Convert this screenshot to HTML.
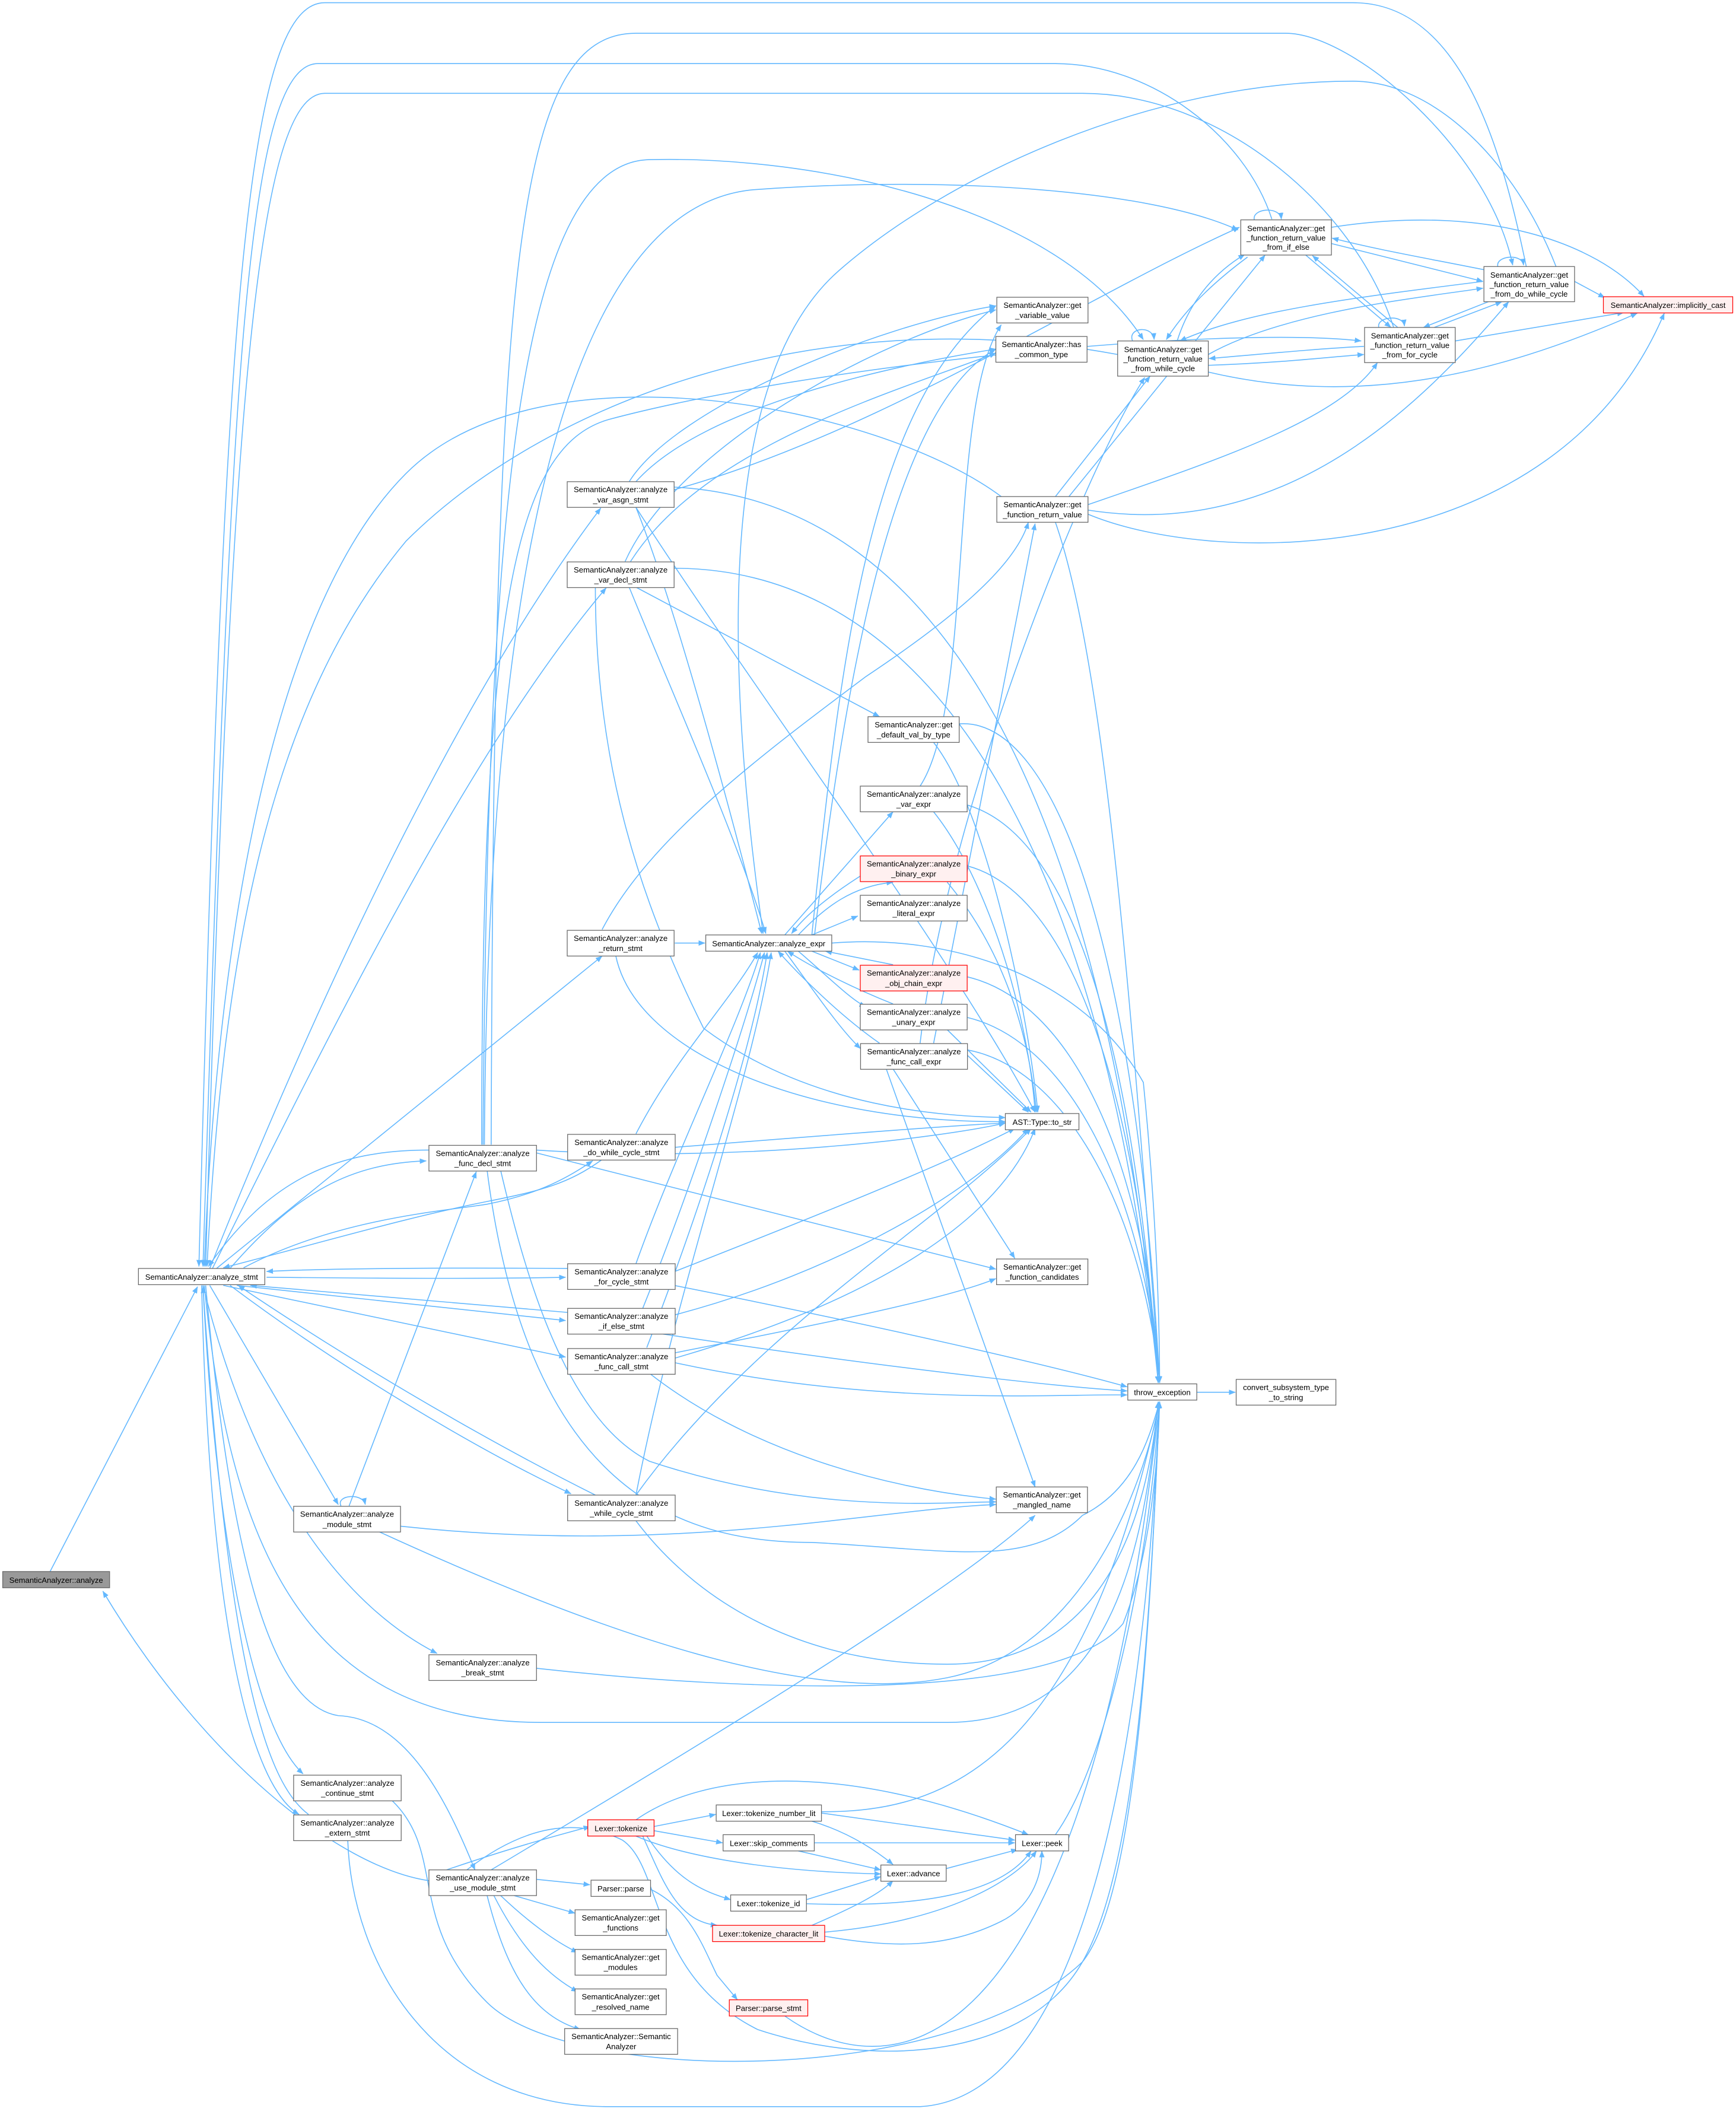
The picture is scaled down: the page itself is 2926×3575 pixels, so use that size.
<!DOCTYPE html>
<html><head><meta charset="utf-8">
<style>
html,body{margin:0;padding:0;background:#fff;}
svg{display:block;}
text{font-family:"Liberation Sans",Arial,sans-serif;font-size:5.75px;fill:#000;text-anchor:middle;}
.e path{fill:none;stroke:#63b8ff;stroke-width:0.7;}
.n rect{fill:#fff;stroke:#666;stroke-width:0.55;}
.n rect.r{fill:#fff0f0;stroke:#ff0000;}
.n rect.g{fill:#999;stroke:#666;}
</style></head>
<body>
<svg width="2926" height="3575" viewBox="0 0 1283 1567.6" xmlns="http://www.w3.org/2000/svg">
<defs>
<marker id="a" markerUnits="userSpaceOnUse" markerWidth="5" markerHeight="4" viewBox="0 0 10 8" refX="9.5" refY="4" orient="auto"><path d="M0,0 L10,4 L0,8 z" fill="#63b8ff"/></marker>
</defs>
<g class="e" marker-end="url(#a)">
<path d="M37 1161.5 L146 951"/>
<path d="M317 1390 C250 1380 150 1300 76 1176"/>
<path d="M170 937.5 C220 880 260 860 315 858"/>
<path d="M317 850 C250 850 200 870 154 936"/>
<path d="M180 937 C250 900 330 895 360 890 C400 882 420 870 438 858"/>
<path d="M445 857 C420 875 400 880 360 888 C300 900 250 915 165 937"/>
<path d="M419.5 937.5 C350 937 250 937 197 939.7"/>
<path d="M197 944 C300 945 380 945 418 944"/>
<path d="M419.5 970 L185 950"/>
<path d="M175 950 L418 976"/>
<path d="M165 950 L418 1003"/>
<path d="M170 950 C250 1010 350 1070 422 1104"/>
<path d="M440 1105 C350 1060 250 1000 176 950"/>
<path d="M155 950 L250 1112"/>
<path d="M258 1113 L352 866"/>
<path d="M252 1113 C248 1105 268 1103 270 1112"/>
<path d="M150 950 C190 1110 260 1190 323 1222"/>
<path d="M150 950 C160 1150 190 1280 224 1311"/>
<path d="M149 950 C155 1200 185 1320 221 1341"/>
<path d="M228 1341 C200 1320 170 1250 150 951"/>
<path d="M152 950 C170 1150 200 1260 250 1268 C300 1270 330 1330 351 1382"/>
<path d="M151 950 C170 1150 230 1273 400 1273 L700 1273 C820 1273 845 1150 856 1036"/>
<path d="M155 937.5 C250 700 350 500 444 375.5"/>
<path d="M157 937.5 C250 750 350 550 448 434.5"/>
<path d="M160 937.5 L445 706.6"/>
<path d="M1128 197 C1110 110 1080 2 1000 2 L240 2 C180 2 165 250 147 936"/>
<path d="M363 846 C365 200 380 24.6 470 24.6 L950 24.6 C1000 24.6 1100 110 1118 196"/>
<path d="M940 162 C920 100 850 47 780 47 L235 47 C180 47 170 300 150 936"/>
<path d="M1030 242 C1000 150 900 69 800 69 L240 69 C190 69 170 300 152 936"/>
<path d="M357 846 C360 400 380 120 480 118 C600 115 780 150 845 251"/>
<path d="M358 846 C360 500 400 150 560 140 C700 130 850 140 915 170"/>
<path d="M356 846 C356 450 380 330 450 310 C600 270 900 240 1006 252"/>
<path d="M740 367 C650 300 400 250 300 350 C200 450 160 700 151 936"/>
<path d="M826 262 C600 220 400 300 300 400 C200 520 165 700 153 936"/>
<path d="M1150 197 C1120 120 1060 60 1000 60 C850 60 700 130 620 200 C540 270 530 450 564 690"/>
<path d="M470 375 C500 450 540 600 563 690"/>
<path d="M465 434 C500 520 545 620 566 690"/>
<path d="M498.7 697 L521 697"/>
<path d="M470 838 C500 780 540 740 560 704"/>
<path d="M470 934 C500 850 545 760 562 704"/>
<path d="M475 967 C510 880 550 760 565 704"/>
<path d="M478 996 C515 900 555 780 567 704"/>
<path d="M470 1105 C500 950 555 800 570 704"/>
<path d="M580 691 L660 600"/>
<path d="M590 691 C610 670 630 655 660 652"/>
<path d="M660 633 C630 650 600 670 585 690"/>
<path d="M600 691 L634 677"/>
<path d="M600 703 L635 717"/>
<path d="M660 713 L610 703"/>
<path d="M590 703 C610 720 630 740 640 744"/>
<path d="M660 742 C630 730 600 715 582 703"/>
<path d="M580 703 C600 730 620 760 636 775"/>
<path d="M650 771 C620 750 590 720 575 703"/>
<path d="M600 691 C620 500 640 300 736 226"/>
<path d="M602 691 C625 500 660 300 736 258"/>
<path d="M614.7 697 C700 690 800 720 845 800 C855 900 857 980 857 1022"/>
<path d="M680 581 C720 520 700 300 740 240"/>
<path d="M715 595 C800 620 840 800 856 1022"/>
<path d="M690 600 C730 650 760 750 765 822"/>
<path d="M700 652 C740 700 760 760 766 822"/>
<path d="M715 640 C790 660 840 800 856 1022"/>
<path d="M715 722 C790 740 845 850 857 1022"/>
<path d="M700 761 L762 822"/>
<path d="M715 752 C790 770 845 880 857 1022"/>
<path d="M715 780 L760 822"/>
<path d="M715 776 C790 790 845 900 857 1022"/>
<path d="M660 790 L750 930"/>
<path d="M655 790 L765 1099"/>
<path d="M690 771 L765 387"/>
<path d="M680 771 C700 600 800 350 846 279"/>
<path d="M709 535 C780 530 840 700 857 1022"/>
<path d="M690 548.7 C730 600 760 750 767 822"/>
<path d="M470 434 L650 529.7"/>
<path d="M498 360 C700 370 820 600 856 1022"/>
<path d="M498 420 C700 420 820 650 856 1022"/>
<path d="M465 356 C500 300 650 240 736 226"/>
<path d="M470 356 C520 300 660 270 736 258"/>
<path d="M462 415 C500 330 650 250 736 229"/>
<path d="M466 415 C520 330 660 290 736 261"/>
<path d="M498 362 C650 320 800 220 916 168"/>
<path d="M470 375 C550 500 700 700 765 822"/>
<path d="M440 434 C440 560 470 660 520 760 C600 820 700 825 743 826"/>
<path d="M455 706 C470 780 600 830 743 829"/>
<path d="M445 687 C480 620 560 560 640 500 C700 460 750 420 760 386"/>
<path d="M498 848 C600 840 700 832 743 830"/>
<path d="M498 940 C600 900 700 860 750 834"/>
<path d="M498 950 C650 980 780 1010 833 1025"/>
<path d="M498 972 C620 940 720 880 760 834"/>
<path d="M490 986 C650 1010 780 1025 833 1028"/>
<path d="M498 1004 C650 960 740 900 765 834"/>
<path d="M498 1007 C650 1040 780 1030 833 1031"/>
<path d="M498 1000 C600 980 700 960 736 945"/>
<path d="M480 1015 C550 1070 650 1100 736 1108"/>
<path d="M470 1105 C560 980 700 900 762 834"/>
<path d="M470 1124 C520 1190 600 1230 700 1230 C800 1230 845 1150 856 1036"/>
<path d="M396 852 L736 938"/>
<path d="M396 850 C550 860 700 840 743 830"/>
<path d="M370 865 C390 950 420 1050 480 1080 C600 1120 700 1110 736 1110"/>
<path d="M360 865 C390 1100 500 1140 600 1140 C700 1145 760 1160 800 1120 C840 1100 850 1060 857 1036"/>
<path d="M296 1128 C500 1150 650 1115 736 1112"/>
<path d="M280 1132 C450 1210 600 1260 700 1240 C800 1220 845 1100 857 1036"/>
<path d="M396.5 1233 C550 1250 780 1260 830 1200 C850 1150 856 1080 857 1036"/>
<path d="M290 1331 C330 1370 300 1420 360 1480 C420 1540 700 1545 800 1450 C840 1400 850 1200 857 1036"/>
<path d="M257 1360 C260 1450 320 1557 450 1557 L680 1557 C800 1550 845 1300 857 1036"/>
<path d="M363 1382 C500 1300 700 1180 765 1120"/>
<path d="M330 1382 C380 1365 410 1357 436 1350"/>
<path d="M396.5 1389 L436 1393"/>
<path d="M380 1401 L425 1414"/>
<path d="M370 1401 C390 1420 410 1435 427 1443"/>
<path d="M365 1401 C385 1440 405 1460 427 1472"/>
<path d="M360 1401 C375 1460 395 1490 429 1500"/>
<path d="M345 1382 C380 1355 420 1340 460 1360 C490 1380 480 1460 560 1500 C650 1530 760 1520 800 1450 C840 1380 850 1200 857 1036"/>
<path d="M483 1350 L529 1341"/>
<path d="M483 1353 L534 1362"/>
<path d="M470 1357 C500 1370 560 1383 651 1385"/>
<path d="M478 1357 C500 1390 520 1398 540 1404"/>
<path d="M475 1357 C490 1390 500 1420 530 1423"/>
<path d="M470 1345 C520 1310 620 1300 760 1356"/>
<path d="M607 1340 L750 1360"/>
<path d="M600 1346 C630 1355 650 1370 660 1378"/>
<path d="M607 1339 C700 1340 800 1300 857 1036"/>
<path d="M601.8 1362 L750 1362"/>
<path d="M590 1368 L651 1382"/>
<path d="M699.5 1381 L752 1367"/>
<path d="M596 1404 L651 1387"/>
<path d="M596 1407 C680 1410 740 1400 762 1368"/>
<path d="M600 1423 C630 1410 650 1400 660 1390"/>
<path d="M609.5 1428 C700 1420 750 1390 766 1368"/>
<path d="M609.5 1431 C660 1440 700 1440 740 1420 C760 1410 770 1390 770 1368"/>
<path d="M780 1356 C820 1300 850 1150 857 1036"/>
<path d="M480 1396 C510 1410 520 1440 530 1460 L545 1478"/>
<path d="M580 1490 C650 1540 800 1550 857 1036"/>
<path d="M884.5 1029 L913 1029"/>
<path d="M780 367 L850 278"/>
<path d="M790 367 L935 188.5"/>
<path d="M804 373 C900 340 990 310 1018 268"/>
<path d="M804 377 C950 400 1050 300 1115 223"/>
<path d="M804 380 C900 420 1150 420 1230 231.5"/>
<path d="M780 386 C820 500 840 800 857 1022"/>
<path d="M837 252 C833 242 852 240 853 251"/>
<path d="M927 162.5 C925 154 946 152 947 162"/>
<path d="M1019 242 C1017 234 1037 232 1038 241"/>
<path d="M1107 197 C1105 189 1125 187 1126 196"/>
<path d="M870 252 C880 220 900 200 920 188"/>
<path d="M922 190 C895 210 875 230 862 251"/>
<path d="M893 270 C950 268 980 264 1008 262"/>
<path d="M1008 256 C970 258 930 262 893.5 265"/>
<path d="M893 262 C950 230 1050 220 1096 213"/>
<path d="M1096 208 C1000 220 920 230 872 252"/>
<path d="M893 275 C1000 300 1100 280 1210 231.5"/>
<path d="M965 188.5 L1028 242"/>
<path d="M1033 242 L970 189"/>
<path d="M984 180 L1096 208"/>
<path d="M1100 200 C1050 190 1020 185 984.5 176"/>
<path d="M984 168 C1100 150 1180 180 1215 219"/>
<path d="M1060 242 L1110 223"/>
<path d="M1100 223 L1052 242"/>
<path d="M1075.5 252 L1200 231"/>
<path d="M1163.7 208 L1186 220"/>
</g>
<g class="n">
<rect class="g" x="2" y="1161.5" width="79" height="12"/><text x="41.5" y="1169.8">SemanticAnalyzer::analyze</text>
<rect x="102.3" y="937.5" width="93.4" height="12"/><text x="149" y="945.8">SemanticAnalyzer::analyze_stmt</text>
<rect x="317" y="846.5" width="79.5" height="19"/><text x="356.75" y="854.3">SemanticAnalyzer::analyze</text><text x="356.75" y="861.8">_func_decl_stmt</text>
<rect x="419.5" y="838.4" width="79.5" height="19"/><text x="459.25" y="846.2">SemanticAnalyzer::analyze</text><text x="459.25" y="853.7">_do_while_cycle_stmt</text>
<rect x="419.5" y="934" width="79.5" height="19"/><text x="459.25" y="941.8">SemanticAnalyzer::analyze</text><text x="459.25" y="949.3">_for_cycle_stmt</text>
<rect x="419.5" y="967" width="79.5" height="19"/><text x="459.25" y="974.8">SemanticAnalyzer::analyze</text><text x="459.25" y="982.3">_if_else_stmt</text>
<rect x="419.5" y="996.7" width="79.5" height="19"/><text x="459.25" y="1004.5">SemanticAnalyzer::analyze</text><text x="459.25" y="1012">_func_call_stmt</text>
<rect x="419.5" y="1105" width="79.5" height="19"/><text x="459.25" y="1112.8">SemanticAnalyzer::analyze</text><text x="459.25" y="1120.3">_while_cycle_stmt</text>
<rect x="217" y="1113.3" width="79" height="19"/><text x="256.5" y="1121.1">SemanticAnalyzer::analyze</text><text x="256.5" y="1128.6">_module_stmt</text>
<rect x="317" y="1223" width="79.5" height="19"/><text x="356.75" y="1230.8">SemanticAnalyzer::analyze</text><text x="356.75" y="1238.3">_break_stmt</text>
<rect x="217" y="1312" width="79.5" height="19"/><text x="256.75" y="1319.8">SemanticAnalyzer::analyze</text><text x="256.75" y="1327.3">_continue_stmt</text>
<rect x="217" y="1341.4" width="79.5" height="19"/><text x="256.75" y="1349.2">SemanticAnalyzer::analyze</text><text x="256.75" y="1356.7">_extern_stmt</text>
<rect x="317" y="1382" width="79.5" height="19"/><text x="356.75" y="1389.8">SemanticAnalyzer::analyze</text><text x="356.75" y="1397.3">_use_module_stmt</text>
<rect x="419.2" y="356" width="79" height="19"/><text x="458.7" y="363.8">SemanticAnalyzer::analyze</text><text x="458.7" y="371.3">_var_asgn_stmt</text>
<rect x="419.2" y="415.3" width="79" height="19"/><text x="458.7" y="423.1">SemanticAnalyzer::analyze</text><text x="458.7" y="430.6">_var_decl_stmt</text>
<rect x="419.2" y="687.6" width="79" height="19"/><text x="458.7" y="695.4">SemanticAnalyzer::analyze</text><text x="458.7" y="702.9">_return_stmt</text>
<rect x="521.6" y="691" width="93.1" height="12"/><text x="568.15" y="699.3">SemanticAnalyzer::analyze_expr</text>
<rect x="641.5" y="529.7" width="67.4" height="19"/><text x="675.2" y="537.5">SemanticAnalyzer::get</text><text x="675.2" y="545">_default_val_by_type</text>
<rect x="635.8" y="581" width="79" height="19"/><text x="675.3" y="588.8">SemanticAnalyzer::analyze</text><text x="675.3" y="596.3">_var_expr</text>
<rect class="r" x="635.8" y="632.6" width="79" height="19"/><text x="675.3" y="640.4">SemanticAnalyzer::analyze</text><text x="675.3" y="647.9">_binary_expr</text>
<rect x="635.8" y="661.7" width="79" height="19"/><text x="675.3" y="669.5">SemanticAnalyzer::analyze</text><text x="675.3" y="677">_literal_expr</text>
<rect class="r" x="635.8" y="713.4" width="79" height="19"/><text x="675.3" y="721.2">SemanticAnalyzer::analyze</text><text x="675.3" y="728.7">_obj_chain_expr</text>
<rect x="635.8" y="742.2" width="79" height="19"/><text x="675.3" y="750">SemanticAnalyzer::analyze</text><text x="675.3" y="757.5">_unary_expr</text>
<rect x="636" y="771.3" width="79" height="19"/><text x="675.5" y="779.1">SemanticAnalyzer::analyze</text><text x="675.5" y="786.6">_func_call_expr</text>
<rect x="736.7" y="219.7" width="67.4" height="19"/><text x="770.4" y="227.5">SemanticAnalyzer::get</text><text x="770.4" y="235">_variable_value</text>
<rect x="736" y="248.7" width="67.4" height="19"/><text x="769.7" y="256.5">SemanticAnalyzer::has</text><text x="769.7" y="264">_common_type</text>
<rect x="736.7" y="367" width="67.4" height="19"/><text x="770.4" y="374.8">SemanticAnalyzer::get</text><text x="770.4" y="382.3">_function_return_value</text>
<rect x="826" y="252" width="67" height="26"/><text x="859.5" y="260.2">SemanticAnalyzer::get</text><text x="859.5" y="267.2">_function_return_value</text><text x="859.5" y="274.2">_from_while_cycle</text>
<rect x="917" y="162.5" width="67" height="26"/><text x="950.5" y="170.7">SemanticAnalyzer::get</text><text x="950.5" y="177.7">_function_return_value</text><text x="950.5" y="184.7">_from_if_else</text>
<rect x="1008.5" y="242" width="67" height="26"/><text x="1042" y="250.2">SemanticAnalyzer::get</text><text x="1042" y="257.2">_function_return_value</text><text x="1042" y="264.2">_from_for_cycle</text>
<rect x="1096.7" y="197" width="67" height="26"/><text x="1130.2" y="205.2">SemanticAnalyzer::get</text><text x="1130.2" y="212.2">_function_return_value</text><text x="1130.2" y="219.2">_from_do_while_cycle</text>
<rect class="r" x="1185" y="219.3" width="95.6" height="12"/><text x="1232.8" y="227.6">SemanticAnalyzer::implicitly_cast</text>
<rect x="743" y="823" width="54.4" height="12"/><text x="770.2" y="831.3">AST::Type::to_str</text>
<rect x="736.5" y="930.5" width="67.5" height="19"/><text x="770.25" y="938.3">SemanticAnalyzer::get</text><text x="770.25" y="945.8">_function_candidates</text>
<rect x="833.5" y="1022.8" width="51" height="12"/><text x="859" y="1031.1">throw_exception</text>
<rect x="913.6" y="1019.5" width="73.7" height="19"/><text x="950.45" y="1027.3">convert_subsystem_type</text><text x="950.45" y="1034.8">_to_string</text>
<rect x="736.3" y="1099" width="67.4" height="19"/><text x="770" y="1106.8">SemanticAnalyzer::get</text><text x="770" y="1114.3">_mangled_name</text>
<rect class="r" x="434.4" y="1345" width="49" height="12"/><text x="458.9" y="1353.3">Lexer::tokenize</text>
<rect x="529.3" y="1334" width="77.8" height="12"/><text x="568.2" y="1342.3">Lexer::tokenize_number_lit</text>
<rect x="534.4" y="1356" width="67.4" height="12"/><text x="568.1" y="1364.3">Lexer::skip_comments</text>
<rect x="750.5" y="1356" width="39.3" height="12"/><text x="770.15" y="1364.3">Lexer::peek</text>
<rect x="651" y="1378.4" width="48.3" height="12"/><text x="675.15" y="1386.7">Lexer::advance</text>
<rect x="540" y="1400.5" width="56" height="12"/><text x="568" y="1408.8">Lexer::tokenize_id</text>
<rect class="r" x="526.6" y="1423" width="82.9" height="12"/><text x="568.05" y="1431.3">Lexer::tokenize_character_lit</text>
<rect x="436.8" y="1389.6" width="44" height="12"/><text x="458.8" y="1397.9">Parser::parse</text>
<rect x="425" y="1411.5" width="67.4" height="19"/><text x="458.7" y="1419.3">SemanticAnalyzer::get</text><text x="458.7" y="1426.8">_functions</text>
<rect x="425" y="1440.8" width="67.4" height="19"/><text x="458.7" y="1448.6">SemanticAnalyzer::get</text><text x="458.7" y="1456.1">_modules</text>
<rect x="425" y="1470" width="67.4" height="19"/><text x="458.7" y="1477.8">SemanticAnalyzer::get</text><text x="458.7" y="1485.3">_resolved_name</text>
<rect x="417.3" y="1499.3" width="83.5" height="19"/><text x="459.05" y="1507.1">SemanticAnalyzer::Semantic</text><text x="459.05" y="1514.6">Analyzer</text>
<rect class="r" x="539" y="1478" width="58" height="12"/><text x="568" y="1486.3">Parser::parse_stmt</text>
</g>
</svg>
</body></html>
